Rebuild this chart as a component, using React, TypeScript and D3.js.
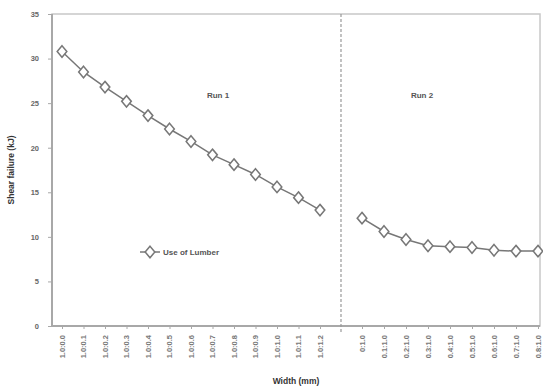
import React, { useEffect, useRef } from "react";
import * as d3 from "d3";

// Run 1 and Run 2 categories (rotated tick labels)
const run1Labels = [
  "1.0:0.0", "1.0:0.1", "1.0:0.2", "1.0:0.3", "1.0:0.4", "1.0:0.5", "1.0:0.6",
  "1.0:0.7", "1.0:0.8", "1.0:0.9", "1.0:1.0", "1.0:1.1", "1.0:1.2",
];
const run2Labels = [
  "0:1.0", "0.1:1.0", "0.2:1.0", "0.3:1.0", "0.4:1.0", "0.5:1.0", "0.6:1.0",
  "0.7:1.0", "0.8:1.0",
];
const run1Values = [30.8, 28.5, 26.8, 25.2, 23.6, 22.1, 20.7, 19.2, 18.1, 17.0, 15.6, 14.4, 13.0];
const run2Values = [12.1, 10.6, 9.7, 9.0, 8.9, 8.8, 8.5, 8.4, 8.4];
const yTicks = [0, 5, 10, 15, 20, 25, 30, 35];
const panelTitles = ["Run 1", "Run 2"];
const seriesName = "Use of Lumber";

const App: React.FC = () => {
  const svgRef = useRef<SVGSVGElement | null>(null);

  useEffect(() => {
    if (!svgRef.current) return;
    const svg = d3.select(svgRef.current);
    svg.selectAll("*").remove();

    const width = 543;
    const height = 390;
    const left = 52;
    const right = 540;
    const top = 14;
    const bottom = 326;
    const split = 341;
    const axisColor = "#a8a8a8";
    const lineColor = "#777";
    const font = "Arial, 'Liberation Sans', sans-serif";

    svg.attr("width", width).attr("height", height);

    const y = d3.scaleLinear().domain([0, 35]).range([bottom, top]);
    const x1 = d3.scalePoint<string>().domain(run1Labels).range([62, 320]);
    const x2 = d3.scalePoint<string>().domain(run2Labels).range([362, 538]);

    // frame
    svg.append("rect")
      .attr("x", left).attr("y", top)
      .attr("width", right - left).attr("height", bottom - top)
      .attr("fill", "none").attr("stroke", "#c8c8c8").attr("stroke-width", 1.5);
    svg.append("line")
      .attr("x1", left).attr("x2", left).attr("y1", top).attr("y2", bottom)
      .attr("stroke", axisColor).attr("stroke-width", 2);
    svg.append("line")
      .attr("x1", left).attr("x2", right).attr("y1", bottom).attr("y2", bottom)
      .attr("stroke", axisColor).attr("stroke-width", 2);

    // divider
    svg.append("line")
      .attr("x1", split).attr("x2", split).attr("y1", top).attr("y2", bottom + 7)
      .attr("stroke", "#999").attr("stroke-width", 1.2)
      .attr("stroke-dasharray", "3,2");

    // y axis
    const yAxis = svg.append("g").attr("transform", `translate(${left},0)`)
      .call(d3.axisLeft(y).tickValues(yTicks).tickSize(4).tickPadding(9));
    yAxis.select(".domain").remove();
    yAxis.selectAll("line").attr("stroke", axisColor);
    yAxis.selectAll("text")
      .attr("fill", "#666").attr("font-size", 7.5).attr("font-weight", "bold")
      .attr("font-family", font);

    // x axes
    const drawX = (scale: d3.ScalePoint<string>) => {
      const g = svg.append("g").attr("transform", `translate(0,${bottom})`)
        .call(d3.axisBottom(scale).tickSize(3).tickPadding(4));
      g.select(".domain").remove();
      g.selectAll("line").attr("stroke", axisColor);
      g.selectAll("text")
        .attr("transform", "rotate(-90)")
        .attr("text-anchor", "end")
        .attr("dy", "0.32em")
        .attr("x", -9)
        .attr("y", 0)
        .attr("fill", "#777").attr("font-size", 7.5).attr("font-weight", "bold")
        .attr("font-family", font);
    };
    drawX(x1);
    drawX(x2);

    const line = d3.line<[number, number]>().x((d) => d[0]).y((d) => d[1]);
    const diamond = d3.symbol().type(d3.symbolDiamond).size(38);

    const drawSeries = (scale: d3.ScalePoint<string>, labels: string[], values: number[]) => {
      const pts: [number, number][] = labels.map((l, i) => [scale(l) as number, y(values[i])]);
      svg.append("path").attr("d", line(pts)).attr("fill", "none")
        .attr("stroke", lineColor).attr("stroke-width", 1.5);
      svg.append("g").selectAll("path").data(pts).join("path")
        .attr("d", diamond)
        .attr("transform", (d) => `translate(${d[0]},${d[1]}) scale(1.45,1)`)
        .attr("fill", "white").attr("stroke", lineColor).attr("stroke-width", 1.2);
    };
    drawSeries(x1, run1Labels, run1Values);
    drawSeries(x2, run2Labels, run2Values);

    // panel titles
    svg.append("text").attr("x", 218).attr("y", 98).attr("text-anchor", "middle")
      .attr("font-size", 8).attr("font-weight", "bold").attr("fill", "#555")
      .attr("font-family", font).text(panelTitles[0]);
    svg.append("text").attr("x", 422).attr("y", 98).attr("text-anchor", "middle")
      .attr("font-size", 8).attr("font-weight", "bold").attr("fill", "#555")
      .attr("font-family", font).text(panelTitles[1]);

    // legend
    svg.append("line").attr("x1", 140).attr("x2", 160).attr("y1", 252).attr("y2", 252)
      .attr("stroke", lineColor).attr("stroke-width", 1.5);
    svg.append("path").attr("d", diamond)
      .attr("transform", "translate(150,252) scale(1.45,1)")
      .attr("fill", "white").attr("stroke", lineColor).attr("stroke-width", 1.2);
    svg.append("text").attr("x", 163).attr("y", 255)
      .attr("font-size", 8).attr("font-weight", "bold").attr("fill", "#555")
      .attr("font-family", font).text(seriesName);

    // axis titles
    svg.append("text").attr("x", (left + right) / 2).attr("y", 384)
      .attr("text-anchor", "middle").attr("font-size", 8.5).attr("font-weight", "bold")
      .attr("fill", "#333").attr("font-family", font).text("Width (mm)");
    svg.append("text")
      .attr("transform", `translate(14,${(top + bottom) / 2}) rotate(-90)`)
      .attr("text-anchor", "middle").attr("font-size", 8.5).attr("font-weight", "bold")
      .attr("fill", "#333").attr("font-family", font).text("Shear failure (kJ)");
  }, []);

  return (
    <div style={{ position: "absolute", left: 0, top: 0 }}>
      <svg ref={svgRef} />
    </div>
  );
};

export default App;
